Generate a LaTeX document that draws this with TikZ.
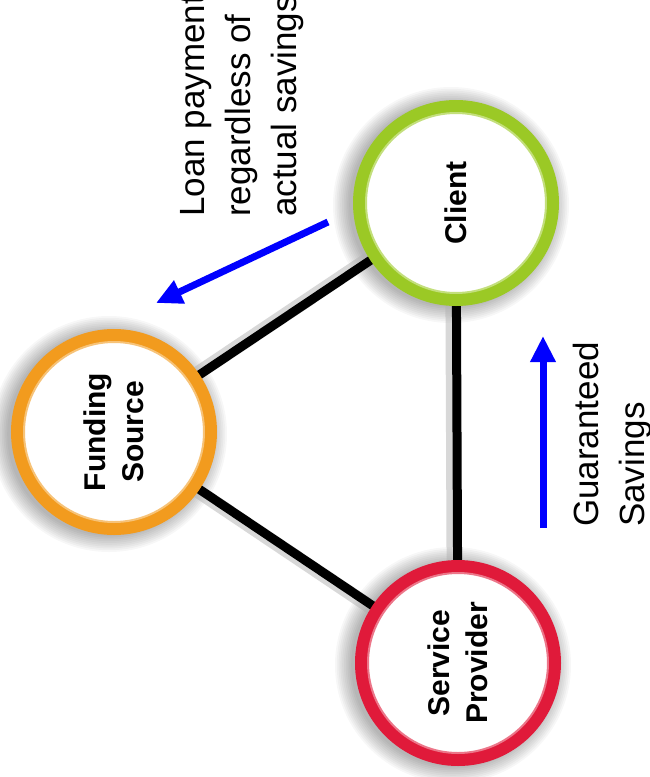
\documentclass[tikz,border=0pt]{standalone}
\usepackage{fontspec}
\setmainfont{Liberation Sans}
\usetikzlibrary{arrows.meta}
\definecolor{orng}{HTML}{F29B1E}
\definecolor{grn}{HTML}{9BC925}
\definecolor{rd}{HTML}{E01A3A}
\definecolor{blu}{HTML}{0000FF}
\tikzset{
  ring/.style={circle, minimum size=193pt, inner sep=0pt, fill=white, draw=#1,
    line width=13pt, font=\bfseries\fontsize{30}{38}\selectfont, align=center, rotate=90},
  link/.style={line width=9pt, black, line cap=round},
  flow/.style={line width=7pt, blu, -{Triangle[width=24pt,length=26pt]}},
  note/.style={font=\fontsize{35}{46}\selectfont, align=left, rotate=90, inner sep=0pt},
}
\begin{document}
\begin{tikzpicture}[x=1pt, y=-1pt]
\useasboundingbox (0,0) rectangle (650,777);
\clip (0,0) rectangle (650,777);
\fill[white] (0,0) rectangle (650,777);
\coordinate (cf) at (114,432);
\coordinate (cc) at (456,203);
\coordinate (cs) at (458,663);
% soft shadows
\foreach \c in {cf,cc,cs}{
  \foreach \i in {1,...,10}{
    \fill[black, opacity=0.03] ([xshift=-5pt,yshift=-2pt]\c) circle ({100+\i*1.8});
  }
}
% links
\draw[link, gray!60, line width=14pt, opacity=0.5] ([xshift=-4pt]cf) -- ([xshift=-4pt]cc);
\draw[link, gray!60, line width=14pt, opacity=0.5] ([xshift=-4pt]cf) -- ([xshift=-4pt]cs);
\draw[link, gray!60, line width=14pt, opacity=0.5] ([xshift=-4pt]cc) -- ([xshift=-4pt]cs);
\draw[link] (cf) -- (cc);
\draw[link] (cf) -- (cs);
\draw[link] (cc) -- (cs);
% circles
\node[ring=orng] (fund) at (cf) {Funding\\Source};
\node[ring=grn] (client) at (cc) {Client};
\node[ring=rd] (prov) at (cs) {Service\\Provider};
\draw[orng!60!white, line width=2pt] (cf) circle (90);
\draw[grn!60!white, line width=2pt] (cc) circle (90);
\draw[rd!60!white, line width=2pt] (cs) circle (90);
% arrows
\coordinate (a1s) at (328,222);
\coordinate (a1e) at (156,303);
\draw[flow] (a1s) -- (a1e);
\coordinate (a2s) at (543,528);
\coordinate (a2e) at (543,336);
\draw[flow] (a2s) -- (a2e);
% notes
\node[note, anchor=north west] (loan) at (180,217) {Loan payment\\regardless of\\actual savings};
\node[note, anchor=north west] (guar) at (573,527) {Guaranteed\\Savings};
\end{tikzpicture}
\end{document}
